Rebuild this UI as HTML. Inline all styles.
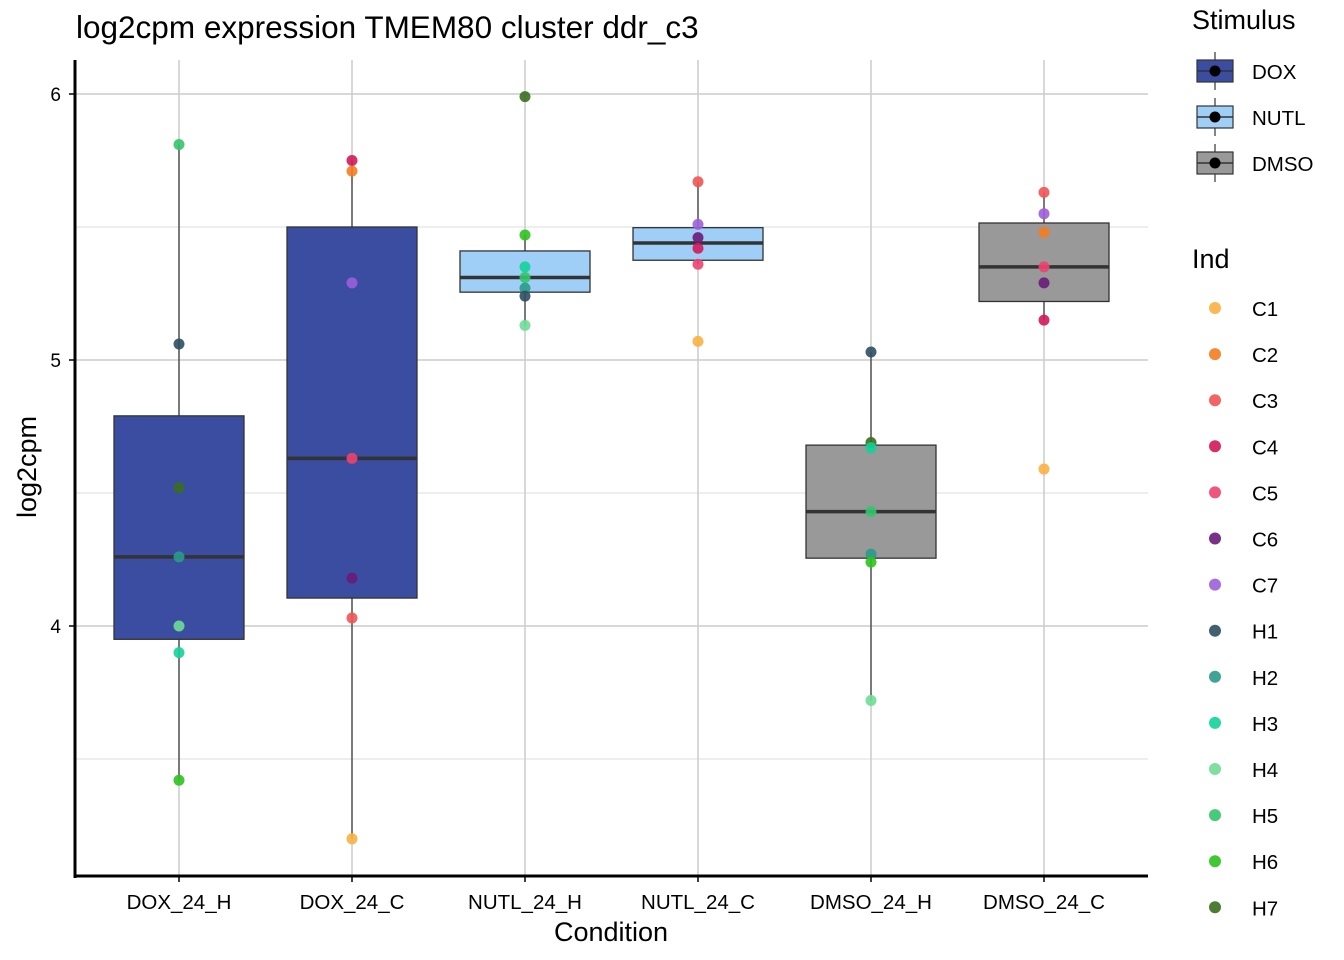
<!DOCTYPE html>
<html><head><meta charset="utf-8"><style>
body{margin:0;background:#fff;}
svg{display:block;font-family:"Liberation Sans",Arial,sans-serif;}
</style></head><body>
<svg id="chart" width="1344" height="960"></svg>
<script>
const categories=["DOX_24_H","DOX_24_C","NUTL_24_H","NUTL_24_C","DMSO_24_H","DMSO_24_C"];
const stimulusOfCat=["DOX","DOX","NUTL","NUTL","DMSO","DMSO"];
const stimuli=["DOX","NUTL","DMSO"];
const stimColors=["#3A4DA0","#9FCFF7","#999999"];
const inds=["C1","C2","C3","C4","C5","C6","C7","H1","H2","H3","H4","H5","H6","H7"];
const indColors=["#FBB040","#F47C20","#F05454","#D1185A","#EE4370","#6A1B78","#9C5FD9","#2F4F60","#2A9A8A","#12D29A","#6FDC96","#33C46A","#2CC21C","#3A6E1F"];
const ptCat=[0,0,0,0,0,0,0, 1,1,1,1,1,1,1, 2,2,2,2,2,2,2, 3,3,3,3,3,3, 4,4,4,4,4,4,4, 5,5,5,5,5,5,5];
const ptInd=["H5","H1","H7","H2","H4","H3","H6", "C4","C2","C7","C5","C6","C3","C1", "H7","H6","H3","H5","H2","H1","H4", "C3","C7","C6","C4","C5","C1", "H1","H7","H3","H5","H2","H6","H4", "C3","C7","C2","C5","C6","C4","C1"];
const ptVal=[5.81,5.06,4.52,4.26,4.0,3.90,3.42, 5.75,5.71,5.29,4.63,4.18,4.03,3.20, 5.99,5.47,5.35,5.31,5.27,5.24,5.13, 5.67,5.51,5.46,5.42,5.36,5.07, 5.03,4.69,4.67,4.43,4.27,4.24,3.72, 5.63,5.55,5.48,5.35,5.29,5.15,4.59];
const yTicks=[4,5,6];
const yMinor=[3.5,4.5,5.5];

const NS="http://www.w3.org/2000/svg";
const svg=document.getElementById('chart');
function mk(tag,attrs,parent){const e=document.createElementNS(NS,tag);for(const k in attrs)e.setAttribute(k,attrs[k]);(parent||svg).appendChild(e);return e;}
const L=75,R=1148,T=60,B=876;
const y=v=>94+(6-v)*266;
const x=i=>179+i*173;

yMinor.forEach(v=>{const g=mk('line',{x1:L,x2:R,y1:y(v),y2:y(v),stroke:'#e3e3e3','stroke-width':1.2});

});
yTicks.forEach(v=>{const g=mk('line',{x1:L,x2:R,y1:y(v),y2:y(v),stroke:'#cccccc','stroke-width':1.5});

});
categories.forEach((c,i)=>{const g=mk('line',{x1:x(i),x2:x(i),y1:T,y2:B,stroke:'#cccccc','stroke-width':1.5});

});

function q(s,p){const h=(s.length-1)*p,lo=Math.floor(h),hi=Math.ceil(h);return s[lo]+(s[hi]-s[lo])*(h-lo);}
categories.forEach((c,i)=>{
  const vals=ptVal.filter((v,k)=>ptCat[k]===i).sort((a,b)=>a-b);
  if(!vals.length)return;
  const q1=q(vals,.25),q3=q(vals,.75),med=q(vals,.5),iqr=q3-q1;
  const inl=vals.filter(v=>v>=q1-1.5*iqr&&v<=q3+1.5*iqr);
  const lo=Math.min(...inl),hi=Math.max(...inl);
  const g=mk('g',{});
  
  
  mk('line',{x1:x(i),x2:x(i),y1:y(hi),y2:y(q3),stroke:'#333','stroke-width':1.2},g);
  mk('line',{x1:x(i),x2:x(i),y1:y(q1),y2:y(lo),stroke:'#333','stroke-width':1.2},g);
  mk('rect',{x:x(i)-65,y:y(q3),width:130,height:y(q1)-y(q3),fill:stimColors[stimuli.indexOf(stimulusOfCat[i])],stroke:'#333','stroke-width':1.3},g);
  mk('line',{x1:x(i)-65,x2:x(i)+65,y1:y(med),y2:y(med),stroke:'#333','stroke-width':3.5},g);
});
ptVal.forEach((v,k)=>{
  const p=mk('circle',{cx:x(ptCat[k]),cy:y(v),r:5.5,fill:indColors[inds.indexOf(ptInd[k])],opacity:0.9});
  
  
});
const ax=mk('line',{x1:L,x2:L,y1:T,y2:B+2,stroke:'#000','stroke-width':3});

const bx=mk('line',{x1:L-1,x2:R,y1:B,y2:B,stroke:'#000','stroke-width':3});

yTicks.forEach(v=>{mk('line',{x1:L-6,x2:L,y1:y(v),y2:y(v),stroke:'#000','stroke-width':1.5});
const t=mk('text',{x:L-14,y:y(v)+7,'text-anchor':'end','font-size':19,fill:'#000'});t.textContent=v;
});
categories.forEach((c,i)=>{mk('line',{x1:x(i),x2:x(i),y1:B,y2:B+6,stroke:'#000','stroke-width':1.5});
const t=mk('text',{x:x(i),y:909,'text-anchor':'middle','font-size':20.5,fill:'#000'});t.textContent=c;
});
</script>
<div style="position:absolute;left:0;top:0;width:1344px;height:960px;pointer-events:none;">
<svg width="1344" height="960" style="font-family:'Liberation Sans',Arial,sans-serif">
<text x="76" y="38" font-size="31.5">log2cpm expression TMEM80 cluster ddr_c3</text>
<text x="611" y="941" font-size="27" text-anchor="middle">Condition</text>
<text x="36" y="467" font-size="27" text-anchor="middle" transform="rotate(-90 36 467)">log2cpm</text>
<text x="1192" y="29" font-size="27">Stimulus</text>
<g id="stimLeg"></g>
<text x="1192" y="268" font-size="27">Ind</text>
<g id="indLeg"></g>
</svg></div>
<script>
(function(){
const sl=document.getElementById('stimLeg'),il=document.getElementById('indLeg');
stimuli.forEach((s,i)=>{const cy=71+i*46;
const g=mk('g',{},sl);
mk('line',{x1:1215,x2:1215,y1:cy-19,y2:cy+19,stroke:'#333','stroke-width':1.2},g);
mk('rect',{x:1197,y:cy-11,width:36,height:22,fill:stimColors[i],stroke:'#333','stroke-width':1.2},g);
mk('line',{x1:1197,x2:1233,y1:cy,y2:cy,stroke:'#333','stroke-width':1.5},g);
mk('circle',{cx:1215,cy:cy,r:5.5,fill:'#000'},g);
const t=mk('text',{x:1252,y:cy+8,'font-size':20.5},g);t.textContent=s;});
inds.forEach((s,i)=>{const cy=308+i*46.1;
const g=mk('g',{},il);
mk('circle',{cx:1215,cy:cy,r:6,fill:indColors[i],opacity:0.9},g);
const t=mk('text',{x:1252,y:cy+8,'font-size':20.5},g);t.textContent=s;});
})();
</script>
</body></html>
